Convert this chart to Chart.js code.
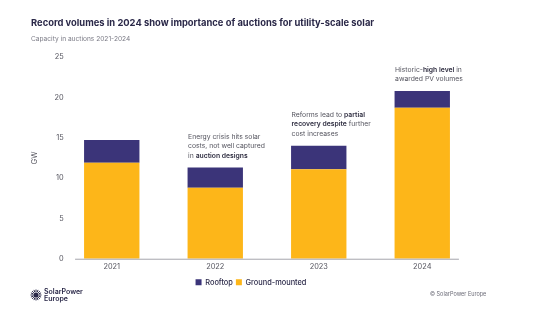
<!DOCTYPE html>
<html>
<head>
<meta charset="utf-8">
<title>Auction volumes</title>
<script src="https://cdn.jsdelivr.net/npm/chart.js@4.4.1/dist/chart.umd.min.js"></script>
<style>
  html, body { margin: 0; padding: 0; background: #fff; }
  #wrap { width: 560px; height: 324px; }
</style>
</head>
<body>
<div id="wrap"><canvas id="grafico" width="560" height="324"></canvas></div>
<script>
const years = ['2021', '2022', '2023', '2024'];
const groundMounted = [11.9, 8.8, 11.1, 18.7];
const rooftop = [2.8, 2.5, 2.9, 2.1];
const yTicks = [0, 5, 10, 15, 20, 25];

// notes above the bars, [text, bold] pieces per line
const notes = [
  null,
  [[['Energy crisis hits solar', false]], [['costs, not well captured', false]], [['in ', false], ['auction designs', true]]],
  [[['Reforms lead to ', false], ['partial', true]], [['recovery despite', true], [' further', false]], [['cost increases', false]]],
  [[['Historic-', false], ['high level', true], [' in', false]], [['awarded PV volumes', false]]]
];

const corRooftop = '#3b3479';
const corGround = '#fdb619';
const corTexto = '#2a2848';
const fonte = 'Inter, "Noto Sans", sans-serif';

// title, subtitle, notes, baseline and footer
const extras = {
  id: 'extras',
  afterDraw(chart) {
    const c = chart.ctx;
    const y = chart.scales.y;
    const bars = chart.getDatasetMeta(1).data;
    c.save();

    c.textBaseline = 'middle';
    c.textAlign = 'left';
    c.fillStyle = corTexto;
    c.font = '700 9.4px ' + fonte;
    c.fillText('Record volumes in 2024 show importance of auctions for utility-scale solar', 31, 23);
    c.fillStyle = '#7a7a85';
    c.font = '6.6px ' + fonte;
    c.fillText('Capacity in auctions 2021-2024', 31, 39.5);

    // baseline under the bars
    const first = chart.getDatasetMeta(0).data[0];
    const last = chart.getDatasetMeta(0).data[years.length - 1];
    const y0 = y.getPixelForValue(0);
    c.strokeStyle = '#a5a5ac';
    c.lineWidth = 1;
    c.beginPath();
    c.moveTo(first.x - first.width / 2 - 9, y0 + 0.5);
    c.lineTo(last.x + last.width / 2 + 9, y0 + 0.5);
    c.stroke();

    // notes
    notes.forEach((linhas, i) => {
      if (!linhas) return;
      const b = bars[i];
      const left = b.x - b.width / 2 + 0.5;
      const baseY = b.y - 12 - (linhas.length - 1) * 9.3;
      linhas.forEach((partes, j) => {
        let px = left;
        partes.forEach(([txt, bold]) => {
          c.font = (bold ? '600 ' : '400 ') + '6.8px ' + fonte;
          c.fillStyle = bold ? '#2e2d40' : '#55555f';
          c.fillText(txt, px, baseY + j * 9.3);
          px += c.measureText(txt).width;
        });
      });
    });

    // footer logo
    const cx = 36, cy = 295;
    c.fillStyle = corTexto;
    c.strokeStyle = corTexto;
    c.lineWidth = 1;
    for (let k = 0; k < 16; k++) {
      const a = k * Math.PI / 8;
      c.beginPath();
      c.moveTo(cx + Math.cos(a) * 3, cy + Math.sin(a) * 3);
      c.lineTo(cx + Math.cos(a) * 5.5, cy + Math.sin(a) * 5.5);
      c.stroke();
    }
    c.beginPath();
    c.arc(cx, cy, 2.6, 0, Math.PI * 2);
    c.fill();
    c.font = '600 7px ' + fonte;
    c.fillText('SolarPower', 44, 291.5);
    c.fillText('Europe', 44, 298.5);

    c.fillStyle = '#6c6c78';
    c.font = '5.5px ' + fonte;
    c.fillText('\u00a9 SolarPower Europe', 430, 294);
    c.restore();
  }
};

new Chart(document.getElementById('grafico'), {
  type: 'bar',
  data: {
    labels: years,
    datasets: [
      { label: 'Ground-mounted', data: groundMounted, backgroundColor: corGround, stack: 's' },
      { label: 'Rooftop', data: rooftop, backgroundColor: corRooftop, stack: 's' }
    ]
  },
  options: {
    responsive: false,
    animation: false,
    barPercentage: 0.535,
    categoryPercentage: 1,
    layout: { padding: { left: 28, right: 86, top: 57, bottom: 28 } },
    scales: {
      x: {
        stacked: true,
        grid: { display: false, drawTicks: false },
        border: { display: false },
        ticks: { color: '#55555f', font: { family: fonte, size: 7.4 }, padding: 4 }
      },
      y: {
        stacked: true,
        min: 0,
        max: 25,
        afterBuildTicks: s => { s.ticks = yTicks.map(v => ({ value: v })); },
        afterFit: s => { s.width = 32; },
        grid: { display: false, drawTicks: false },
        border: { display: false },
        // mirrored so the labels are not clipped to the narrow axis box
        ticks: { color: '#55555f', font: { family: fonte, size: 7.4 }, mirror: true, crossAlign: 'far', padding: -5.4 },
        title: { display: true, text: 'GW', color: '#55555f', font: { family: fonte, size: 7.4 }, padding: { top: 2, bottom: 0 } }
      }
    },
    plugins: {
      legend: {
        position: 'bottom',
        reverse: true,
        labels: {
          boxWidth: 6,
          boxHeight: 6,
          padding: 3,
          color: corTexto,
          font: { family: fonte, size: 7.4, weight: '500' }
        }
      },
      tooltip: { enabled: false }
    }
  },
  plugins: [extras]
});
</script>
</body>
</html>
